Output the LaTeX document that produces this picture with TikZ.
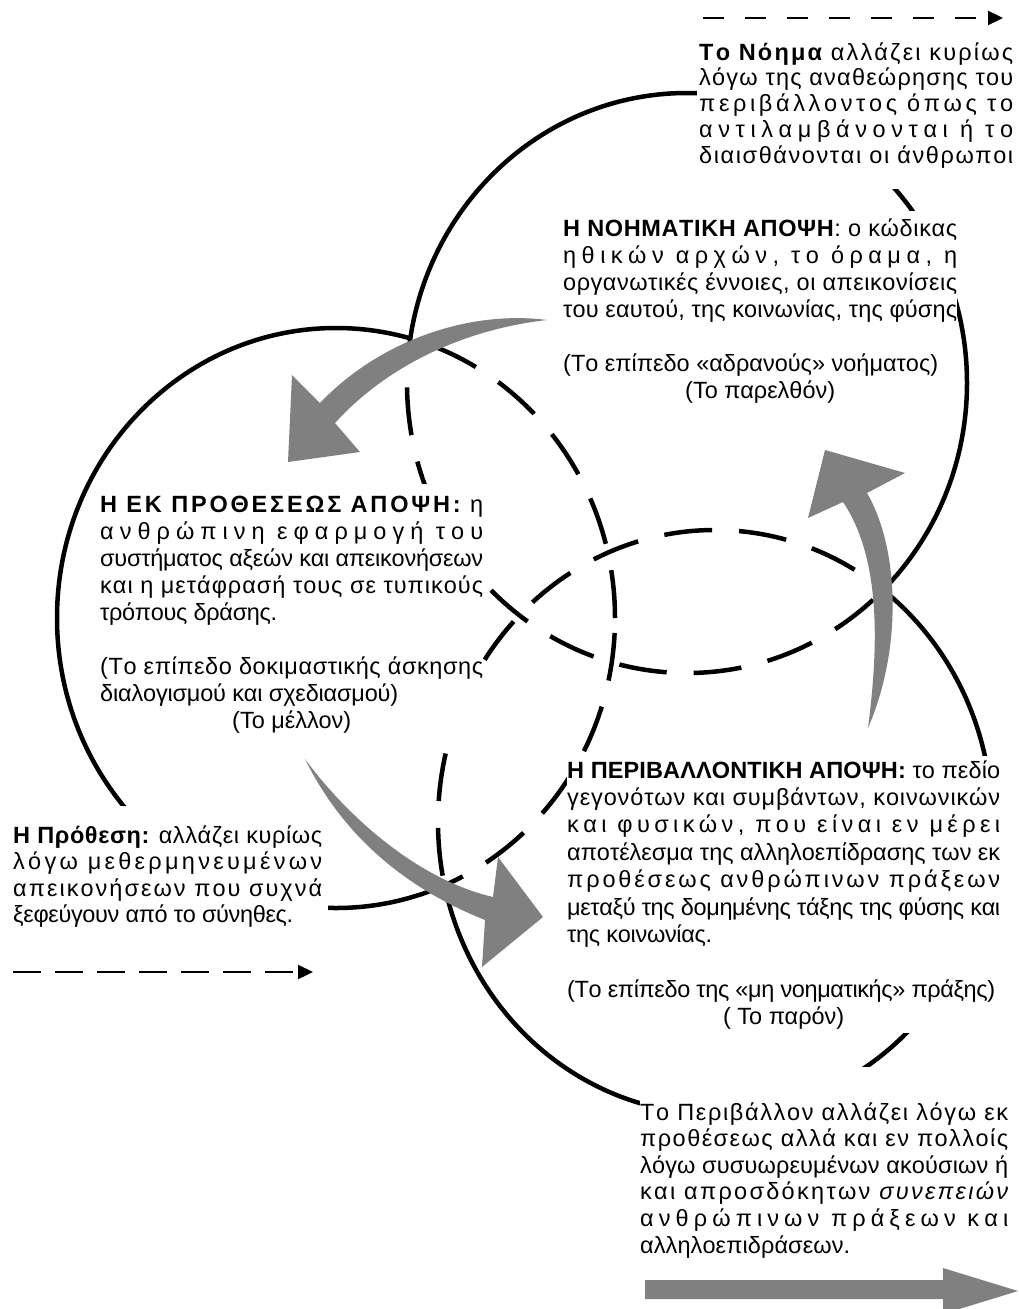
\documentclass[tikz,border=0pt]{standalone}
\usepackage{fontspec}
\setmainfont{Liberation Sans}
\usetikzlibrary{arrows.meta}
\newif\ifgrfirst
\newif\ifgrfirstword
\let\grend\relax
\def\grglue{\ifgrfirst\grfirstfalse\else\hskip 0pt plus 1fil minus 1fil\relax\fi}
\def\grletters#1{\ifx#1\grend\else\ifcat\noexpand#1\relax#1\else\grglue#1\fi\expandafter\grletters\fi}
\def\grwords#1 {\ifx\grend#1\else\ifgrfirstword\grfirstwordfalse\else\space\fi\grletters#1\grend\expandafter\grwords\fi}
\newcommand\spreadline[2]{\hbox to #1pt{\grfirsttrue\grfirstwordtrue\grwords#2 \grend{} }}
\newcommand\cenline[2]{\hbox to #1pt{\hss#2\hss}}
\tikzset{
  ring/.style={line width=4.5pt},
  ringdash/.style={line width=4.5pt, dash pattern=on 48pt off 27pt},
  garrow/.style={fill=black!50},
  dasharrow/.style={line width=2.3pt, -{Triangle[length=15pt,width=14pt]}},
  txtblk/.style={inner sep=0pt, anchor=base west, font=\fontsize{23.5pt}{27pt}\selectfont},
  cover/.style={fill=white},
}
\begin{document}
\begin{tikzpicture}[x=1pt,y=-1pt]
\useasboundingbox (0,0) rectangle (1019,1309);
\fill[white] (0,0) rectangle (1019,1309);
\coordinate (c1) at (687,383);
\coordinate (c2) at (336,618);
\coordinate (c3) at (715,822);
% ---------- circle 1 (meaning) ----------
\begin{scope}
  \clip (-20,-20) -- (1040,-20) -- (1040,1330) -- (-20,1330) -- cycle (c2) ellipse [x radius=279pt, y radius=290pt];
  \clip (-20,-20) -- (1040,-20) -- (1040,1330) -- (-20,1330) -- cycle (c3) ellipse [x radius=277pt, y radius=292pt];
  \draw[ring] (c1) ellipse [x radius=280pt, y radius=290pt];
\end{scope}
\begin{scope}
  \clip (c2) ellipse [x radius=279pt, y radius=290pt] (c3) ellipse [x radius=277pt, y radius=292pt];
  \draw[ringdash] (c1) ellipse [x radius=280pt, y radius=290pt];
\end{scope}
% ---------- circle 2 (intention) ----------
\begin{scope}
  \clip (-20,-20) -- (1040,-20) -- (1040,1330) -- (-20,1330) -- cycle (c1) ellipse [x radius=280pt, y radius=290pt];
  \clip (-20,-20) -- (1040,-20) -- (1040,1330) -- (-20,1330) -- cycle (c3) ellipse [x radius=277pt, y radius=292pt];
  \draw[ring] (c2) ellipse [x radius=279pt, y radius=290pt];
\end{scope}
\begin{scope}
  \clip (c1) ellipse [x radius=280pt, y radius=290pt] (c3) ellipse [x radius=277pt, y radius=292pt];
  \draw[ringdash] (c2) ellipse [x radius=279pt, y radius=290pt];
\end{scope}
% ---------- circle 3 (environment) ----------
\begin{scope}
  \clip (-20,-20) -- (1040,-20) -- (1040,1330) -- (-20,1330) -- cycle (c1) ellipse [x radius=280pt, y radius=290pt];
  \clip (-20,-20) -- (1040,-20) -- (1040,1330) -- (-20,1330) -- cycle (c2) ellipse [x radius=279pt, y radius=290pt];
  \draw[ring] (c3) ellipse [x radius=277pt, y radius=292pt];
\end{scope}
\begin{scope}
  \clip (c1) ellipse [x radius=280pt, y radius=290pt] (c2) ellipse [x radius=279pt, y radius=290pt];
  \draw[ringdash] (c3) ellipse [x radius=277pt, y radius=292pt];
\end{scope}
% ---------- text blocks ----------
\node[txtblk, cover, inner xsep=2pt, inner ysep=21pt] (tA) at (697,60) {\vtop{\baselineskip=25.9pt\lineskiplimit=-1000pt
\spreadline{314}{\bfseries Το Νόημα \mdseries αλλάζει κυρίως}
\spreadline{314}{λόγω της αναθεώρησης του}
\spreadline{314}{περιβάλλοντος όπως το}
\spreadline{314}{αντιλαμβάνονται ή το}
\spreadline{314}{διαισθάνονται οι άνθρωποι}}};
\node[txtblk, cover, inner ysep=7pt] (tB) at (563,236) {\vtop{\baselineskip=27pt\lineskiplimit=-1000pt
\spreadline{394}{\bfseries Η ΝΟΗΜΑΤΙΚΗ ΑΠΟΨΗ\mdseries: ο κώδικας}
\spreadline{394}{ηθικών αρχών, το όραμα, η}
\spreadline{394}{οργανωτικές έννοιες, οι απεικονίσεις}
\spreadline{394}{του εαυτού, της κοινωνίας, της φύσης}
\hbox{}
\spreadline{375}{(Το επίπεδο «αδρανούς» νοήματος)}
\cenline{394}{(Το παρελθόν)}}};
\node[txtblk, cover, inner ysep=12pt] (tC) at (100,512) {\vtop{\baselineskip=27pt\lineskiplimit=-1000pt
\spreadline{383}{\bfseries Η ΕΚ ΠΡΟΘΕΣΕΩΣ ΑΠΟΨΗ: \mdseries η}
\spreadline{383}{ανθρώπινη εφαρμογή του}
\spreadline{383}{συστήματος αξεών και απεικονήσεων}
\spreadline{383}{και η μετάφρασή τους σε τυπικούς}
\spreadline{177}{τρόπους δράσης.}
\hbox{}
\spreadline{383}{(Το επίπεδο δοκιμαστικής άσκησης}
\spreadline{298}{διαλογισμού και σχεδιασμού)}
\cenline{383}{(Το μέλλον)}}};
\node[txtblk, cover, inner xsep=6pt, inner ysep=19pt] (tD) at (7,843) {\vtop{\baselineskip=26.6pt\lineskiplimit=-1000pt
\spreadline{309}{\bfseries Η Πρόθεση: \mdseries αλλάζει κυρίως}
\spreadline{309}{λόγω μεθερμηνευμένων}
\spreadline{309}{απεικονήσεων που συχνά}
\spreadline{280}{ξεφεύγουν από το σύνηθες.}}};
\node[txtblk, cover, inner ysep=4pt] (tE) at (567,778) {\vtop{\baselineskip=27.4pt\lineskiplimit=-1000pt
\spreadline{433}{\bfseries Η ΠΕΡΙΒΑΛΛΟΝΤΙΚΗ ΑΠΟΨΗ: \mdseries το πεδίο}
\spreadline{433}{γεγονότων και συμβάντων, κοινωνικών}
\spreadline{433}{και φυσικών, που είναι εν μέρει}
\spreadline{433}{αποτέλεσμα της αλληλοεπίδρασης των εκ}
\spreadline{433}{προθέσεως ανθρώπινων πράξεων}
\spreadline{433}{μεταξύ της δομημένης τάξης της φύσης και}
\spreadline{145}{της κοινωνίας.}
\hbox{}
\spreadline{428}{(Το επίπεδο της «μη νοηματικής» πράξης)}
\cenline{433}{( Το παρόν)}}};
\node[txtblk, cover, inner ysep=35pt] (tF) at (640,1120) {\vtop{\baselineskip=26.6pt\lineskiplimit=-1000pt
\spreadline{368}{Το Περιβάλλον αλλάζει λόγω εκ}
\spreadline{368}{προθέσεως αλλά και εν πολλοίς}
\spreadline{368}{λόγω συσυωρευμένων ακούσιων ή}
\spreadline{368}{και απροσδόκητων \itshape συνεπειών}
\spreadline{368}{ανθρώπινων πράξεων και}
\spreadline{210}{αλληλοεπιδράσεων.}}};
% ---------- grey curved arrows ----------
\fill[garrow] (547,320) .. controls (470,310) and (380,340) .. (320,403) -- (292,375) -- (288,462) -- (360,452) -- (335,423) .. controls (385,368) and (460,330) .. (547,320) -- cycle;
\fill[garrow] (305,759) .. controls (350,820) and (420,880) .. (493,897) -- (498,857) -- (543,917) -- (482,967) -- (485,920) .. controls (410,890) and (345,840) .. (305,759) -- cycle;
\fill[garrow] (868,728) .. controls (878,650) and (882,560) .. (843,502) -- (808,518) -- (825,450) -- (905,473) -- (867,493) .. controls (900,550) and (902,650) .. (868,728) -- cycle;
\fill[garrow] (645,1280) -- (943,1280) -- (943,1268) -- (1018,1291) -- (943,1314) -- (943,1299) -- (645,1299) -- cycle;
% ---------- dashed arrows ----------
\coordinate (ta) at (703,18);
\coordinate (tb) at (1003,18);
\draw[dasharrow, dash pattern=on 21pt off 21pt] (ta) -- (tb);
\coordinate (ba) at (13,972);
\coordinate (bb) at (313,972);
\draw[dasharrow, dash pattern=on 28pt off 14pt] (ba) -- (bb);
\end{tikzpicture}
\end{document}
